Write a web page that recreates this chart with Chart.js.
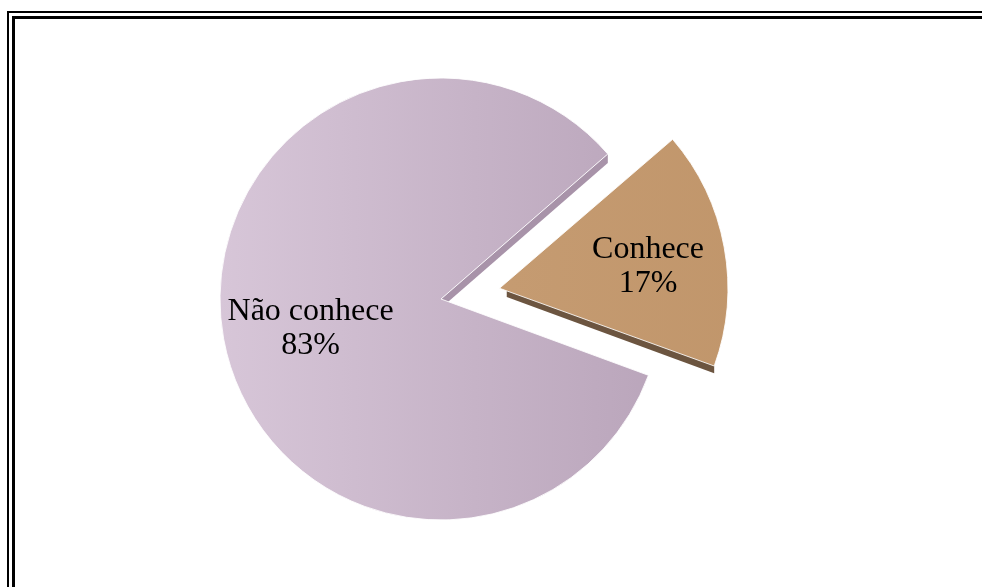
<!DOCTYPE html>
<html>
<head>
<meta charset="utf-8">
<script src="https://cdn.jsdelivr.net/npm/chart.js@4.4.0/dist/chart.umd.min.js"></script>
<style>
  html, body { margin: 0; padding: 0; background: #fff; overflow: hidden; }
  #wrap { position: relative; width: 982px; height: 587px; }
  .moldura1 { position: absolute; left: 7px; top: 11px; width: 1000px; height: 600px; border: 2px solid #000; }
  .moldura2 { position: absolute; left: 12px; top: 16px; width: 1000px; height: 600px; border: 3px solid #000; }
  canvas { position: absolute; left: 0; top: 0; }
</style>
</head>
<body>
<div id="wrap">
  <div class="moldura1"></div>
  <div class="moldura2"></div>
  <canvas id="grafico" width="982" height="587"></canvas>
</div>
<script>
// dados da pesquisa
const categorias = ['Conhece', 'Não conhece'];
const percentuais = [17, 83];

// cores: topo (gradiente) e lateral de cada fatia
const coresTopo = [['#c9a077', '#c0956a'], ['#d7c6d8', '#b5a0b6']];
const coresLado = ['#6c5540', '#a893a9'];
// distância do rótulo ao centro (fração do raio)
const raioRotulo = [0.65, 0.6];

// mesmo deslocamento que o ArcElement aplica no draw()
function deslocamento(arc) {
  const off = (arc.options.offset || 0) / 4;
  const circ = arc.endAngle - arc.startAngle;
  const fix = 1 - Math.sin(Math.min(Math.PI, circ));
  const d = off * (1 + fix);
  const meio = (arc.startAngle + arc.endAngle) / 2;
  return { dx: Math.cos(meio) * d, dy: Math.sin(meio) * d, meio };
}

// "espessura" da pizza: face lateral visível no corte de cada fatia
const espessura = {
  id: 'espessura',
  beforeDatasetsDraw(chart) {
    const c = chart.ctx;
    chart.getDatasetMeta(0).data.forEach((arc, i) => {
      const { dx, dy } = deslocamento(arc);
      const ox = arc.x + dx, oy = arc.y + dy;
      const h = i === 0 ? 10 : 9;
      const a = arc.endAngle;
      const ex = ox + Math.cos(a) * arc.outerRadius;
      const ey = oy + Math.sin(a) * arc.outerRadius;
      c.save();
      c.fillStyle = coresLado[i];
      c.beginPath();
      c.moveTo(ox, oy);
      c.lineTo(ex, ey);
      c.lineTo(ex, ey + h);
      c.lineTo(ox, oy + h);
      c.closePath();
      c.fill();
      c.restore();
    });
  }
};

// rótulos dentro das fatias
const rotulos = {
  id: 'rotulos',
  afterDatasetsDraw(chart) {
    const c = chart.ctx;
    chart.getDatasetMeta(0).data.forEach((arc, i) => {
      const { dx, dy, meio } = deslocamento(arc);
      const r = arc.outerRadius * raioRotulo[i];
      const x = arc.x + dx + Math.cos(meio) * r;
      const y = arc.y + dy + Math.sin(meio) * r + 6;
      c.save();
      c.font = '32px "Liberation Serif", "Times New Roman", serif';
      c.fillStyle = '#000';
      c.textAlign = 'center';
      c.textBaseline = 'middle';
      c.fillText(categorias[i], x, y - 17);
      c.fillText(percentuais[i] + '%', x, y + 17);
      c.restore();
    });
  }
};

function gradiente(context) {
  const i = context.dataIndex;
  const g = context.chart.ctx.createLinearGradient(220, 0, 730, 0);
  g.addColorStop(0, coresTopo[i][0]);
  g.addColorStop(1, coresTopo[i][1]);
  return g;
}

new Chart(document.getElementById('grafico'), {
  type: 'pie',
  data: {
    labels: categorias,
    datasets: [{
      data: percentuais,
      backgroundColor: gradiente,
      borderColor: 'rgba(255,255,255,0.85)',
      borderWidth: 1,
      offset: [238, 0]
    }]
  },
  options: {
    responsive: false,
    animation: false,
    rotation: 49,
    radius: 221,
    layout: { padding: { top: 11, bottom: 0, left: 0, right: 100 } },
    events: [],
    plugins: {
      legend: { display: false },
      tooltip: { enabled: false }
    }
  },
  plugins: [espessura, rotulos]
});
</script>
</body>
</html>
